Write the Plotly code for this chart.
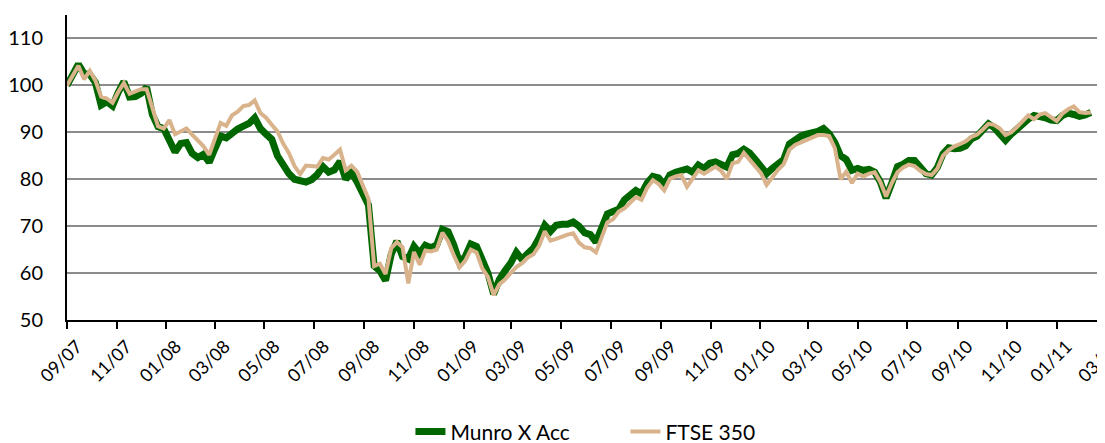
import pandas as pd
import plotly.graph_objects as go

start_date = "2007-09-01"
n_weeks = 181

munro = [100.0, 102.5, 104.5, 102.5, 102.3, 100.6, 95.8, 96.5, 95.6, 98.5,
         100.8, 97.5, 97.6, 98.3, 99.6, 93.8, 91.2, 90.8, 88.0, 85.8,
         87.6, 87.8, 85.5, 84.6, 85.3, 83.6, 86.5, 89.2, 88.8, 90.0,
         90.7, 91.3, 91.9, 93.1, 90.8, 89.6, 88.5, 85.0, 82.8, 81.2,
         80.0, 79.5, 79.4, 79.9, 81.0, 82.7, 81.5, 82.0, 83.8, 80.0,
         81.5, 79.4, 77.0, 74.5, 61.5, 60.5, 58.4, 64.0, 66.8, 63.5,
         63.0, 65.7, 64.2, 65.9, 65.4, 66.0, 69.3, 68.8, 66.0, 62.3,
         63.5, 66.2, 65.7, 62.9, 60.0, 55.5, 58.6, 60.5, 62.1, 64.4,
         62.9, 64.2, 65.3, 67.5, 70.2, 68.9, 70.2, 70.4, 70.4, 70.9,
         70.0, 68.6, 68.2, 66.6, 69.8, 72.6, 73.1, 73.6, 75.6, 76.5,
         77.6, 76.9, 79.2, 80.6, 80.3, 78.8, 80.9, 81.5, 82.0, 82.2,
         81.5, 83.0, 82.3, 83.4, 83.7, 83.2, 82.6, 85.2, 85.5, 86.4,
         85.6, 84.2, 82.5, 81.2, 82.3, 83.5, 84.2, 87.5, 88.6, 89.2,
         89.6, 89.8, 90.2, 90.8, 89.7, 87.8, 85.0, 84.2, 81.9, 82.3,
         81.9, 82.1, 81.5, 79.4, 76.0, 79.2, 82.7, 83.2, 84.0, 84.0,
         82.5, 81.2, 80.9, 82.5, 85.4, 86.7, 86.5, 86.6, 87.1, 88.6,
         89.2, 90.5, 91.8, 91.0, 89.8, 88.3, 89.6, 90.8, 91.7, 92.8,
         93.6, 93.4, 93.1, 92.6, 92.5, 93.6, 94.1, 93.8, 93.4, 93.7,
         94.2]

ftse = [100.0, 102.0, 104.2, 101.3, 103.1, 101.0, 97.6, 97.2, 96.3, 98.6,
        100.5, 98.2, 98.8, 99.2, 99.2, 95.2, 91.3, 90.8, 92.6, 89.6,
        90.2, 90.8, 89.5, 88.3, 87.0, 85.2, 88.5, 92.0, 91.4, 93.6,
        94.4, 95.6, 95.8, 96.8, 94.1, 93.1, 91.6, 90.2, 87.6, 85.6,
        82.8, 81.1, 82.9, 82.8, 82.7, 84.5, 84.2, 85.2, 86.3, 81.9,
        82.9, 81.6, 78.5, 75.8, 61.5, 62.0, 59.8, 65.3, 66.6, 65.5,
        57.8, 64.5, 61.8, 64.8, 64.6, 65.0, 68.6, 66.8, 63.8, 61.2,
        62.6, 65.0, 64.4, 61.0, 59.2, 55.3, 57.6, 58.6, 60.0, 61.3,
        62.1, 63.3, 64.0, 65.8, 68.9, 66.9, 67.3, 67.8, 68.2, 68.5,
        66.5, 65.5, 65.3, 64.4, 67.8, 70.8, 71.5, 73.1, 73.8, 75.0,
        76.2, 75.6, 78.2, 79.8, 79.0, 77.6, 80.1, 80.6, 80.9, 78.4,
        80.0, 81.9, 81.2, 81.9, 82.7, 81.8, 80.1, 83.4, 83.7, 85.6,
        84.2, 82.9, 81.3, 78.8, 80.5, 82.0, 83.2, 86.3, 87.3, 87.8,
        88.4, 89.0, 89.4, 89.4, 89.2, 86.6, 80.0, 81.6, 79.2, 81.2,
        80.6, 81.2, 81.5, 79.4, 76.3, 79.2, 81.5, 82.5, 83.1, 82.8,
        81.8, 81.1, 80.9, 82.2, 85.0, 86.2, 87.0, 87.5, 88.1, 89.0,
        89.5, 90.6, 91.8, 91.6, 90.8, 89.4, 90.0, 91.1, 92.4, 93.6,
        92.8, 93.8, 94.1, 93.2, 92.4, 94.0, 94.9, 95.5, 94.3, 94.1,
        94.2]

tick_dates = ["2007-09-01", "2007-11-01", "2008-01-01", "2008-03-01", "2008-05-01",
              "2008-07-01", "2008-09-01", "2008-11-01", "2009-01-01", "2009-03-01",
              "2009-05-01", "2009-07-01", "2009-09-01", "2009-11-01", "2010-01-01",
              "2010-03-01", "2010-05-01", "2010-07-01", "2010-09-01", "2010-11-01",
              "2011-01-01", "2011-03-01"]
tick_labels = ["09/07", "11/07", "01/08", "03/08", "05/08", "07/08", "09/08", "11/08",
               "01/09", "03/09", "05/09", "07/09", "09/09", "11/09", "01/10", "03/10",
               "05/10", "07/10", "09/10", "11/10", "01/11", "03/11"]
y_ticks = [50, 60, 70, 80, 90, 100, 110]

dates = pd.date_range(start_date, periods=n_weeks, freq="7D")

fig = go.Figure()
fig.add_trace(go.Scatter(x=dates, y=munro, mode="lines", name="Munro X Acc",
                         line=dict(color="#006600", width=7)))
fig.add_trace(go.Scatter(x=dates, y=ftse, mode="lines", name="FTSE 350",
                         line=dict(color="#D9B38C", width=4)))

font_family = "Lato, Open Sans, sans-serif"
fig.update_layout(
    width=1097, height=435,
    margin=dict(l=59, r=0, t=7, b=123, autoexpand=False),
    paper_bgcolor="white", plot_bgcolor="white",
    font=dict(family=font_family, size=18, color="black"),
    showlegend=True,
    legend=dict(orientation="h", x=0.538, xanchor="center", y=-0.367, yanchor="middle",
                font=dict(size=21), tracegroupgap=0, entrywidth=170),
    xaxis=dict(type="date", range=["2007-09-01", "2011-03-01 10:00"],
               automargin=False, ticklabeloverflow="allow",
               tickmode="array", tickvals=tick_dates, ticktext=tick_labels,
               tickangle=-45, ticklabelshift=10, showgrid=False, zeroline=False,
               showline=True, linecolor="black", linewidth=2,
               ticks="outside", ticklen=7, tickwidth=2, tickcolor="black",
               tickfont=dict(size=18)),
    yaxis=dict(range=[50, 115], tickmode="array", tickvals=y_ticks,
               automargin=False,
               showgrid=True, gridcolor="#8c8c8c", gridwidth=2, zeroline=False,
               showline=True, linecolor="black", linewidth=2,
               ticks="", ticklabelstandoff=18, tickfont=dict(size=20)),
)

fig.write_html("out.html")
